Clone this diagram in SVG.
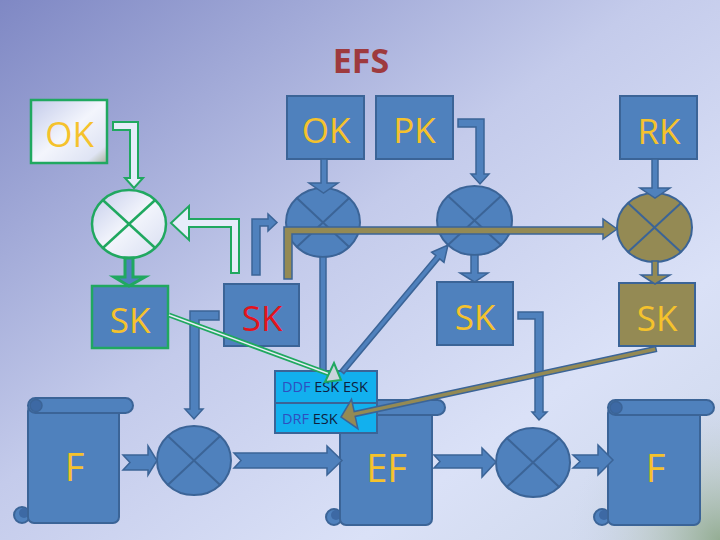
<svg xmlns="http://www.w3.org/2000/svg" width="720" height="540" viewBox="0 0 720 540">
<defs>
<linearGradient id="bg" x1="0" y1="0" x2="1" y2="1">
<stop offset="0" stop-color="#7f88c4"/>
<stop offset="0.45" stop-color="#c4cbeb"/>
<stop offset="0.75" stop-color="#dae1f7"/>
<stop offset="1" stop-color="#cdd7ea"/>
</linearGradient>
<radialGradient id="greenCorner" cx="720" cy="540" r="150" gradientUnits="userSpaceOnUse">
<stop offset="0" stop-color="#8aa684" stop-opacity="0.85"/>
<stop offset="0.5" stop-color="#b0c0b0" stop-opacity="0.4"/>
<stop offset="1" stop-color="#c8d2e8" stop-opacity="0"/>
</radialGradient>
<linearGradient id="light" x1="0" y1="0" x2="1" y2="1">
<stop offset="0" stop-color="#c3cbea"/>
<stop offset="0.5" stop-color="#f3f5fc"/>
<stop offset="0.85" stop-color="#dfe4f4"/>
<stop offset="1" stop-color="#a9b29c"/>
</linearGradient>
<style>
.blue{fill:#4f81bd;stroke:#3b6497;stroke-width:2}
.olive{fill:#948a54;stroke:#3b6497;stroke-width:2}
.xl{stroke:#3b6497;stroke-width:2;fill:none}
.gr{fill:url(#light);stroke:#20a860;stroke-width:2.5}
.grx{stroke:#20a860;stroke-width:2.5;fill:none}
.dark{fill:#3d69a4;stroke:#3b6497;stroke-width:1.5}
.lbl{font-family:"Open Sans","Liberation Sans",sans-serif;font-size:35px;text-anchor:middle;fill:#f5c22c}
.big{font-size:38px}
.red{fill:#e3141c}
.ttl{font-family:"Open Sans","Liberation Sans",sans-serif;font-size:34px;font-weight:bold;text-anchor:middle;fill:#9e3a3e}
.sm{font-family:"Open Sans","Liberation Sans",sans-serif;font-size:14.5px;fill:#0e1e40}
.ddf{fill:#2e4fc0}
.cb{fill:#4f81bd;stroke:#3b6497;stroke-width:1.5}
.co{fill:#948a54;stroke:#3b6497;stroke-width:1.5}
.hg{fill:#e6ecfa;stroke:#20a860;stroke-width:2}
</style>
</defs>
<rect width="720" height="540" fill="url(#bg)"/>
<rect width="720" height="540" fill="url(#greenCorner)"/>

<text class="ttl" x="361" y="73">EFS</text>

<g id="ok-left">
<rect class="gr" x="31" y="100" width="76" height="63"/>
<text class="lbl" x="69.5" y="147">OK</text>
</g>
<g id="circle-green">
<ellipse class="gr" cx="129" cy="224" rx="37" ry="34"/>
<line class="grx" x1="102.8" y1="200" x2="155.2" y2="248"/>
<line class="grx" x1="155.2" y1="200" x2="102.8" y2="248"/>
</g>
<g id="sk-green">
<rect x="92" y="286" width="76" height="62" fill="#4f81bd" stroke="#20a860" stroke-width="2.5"/>
<text class="lbl" x="130" y="333">SK</text>
</g>
<g id="sk-red">
<rect class="blue" x="224" y="284" width="75" height="62"/>
<text class="lbl red" x="262" y="331">SK</text>
</g>
<g id="ok-top">
<rect class="blue" x="287" y="96" width="77" height="63"/>
<text class="lbl" x="326" y="143">OK</text>
</g>
<g id="pk">
<rect class="blue" x="376" y="96" width="77" height="63"/>
<text class="lbl" x="414.5" y="143">PK</text>
</g>
<g id="rk">
<rect class="blue" x="620" y="96" width="77" height="63"/>
<text class="lbl" x="659" y="144">RK</text>
</g>
<g id="circle-ok">
<ellipse class="blue" cx="323" cy="222.5" rx="37" ry="34.5"/>
<line class="xl" x1="296.8" y1="198.1" x2="349.2" y2="246.9"/>
<line class="xl" x1="349.2" y1="198.1" x2="296.8" y2="246.9"/>
</g>
<g id="circle-pk">
<ellipse class="blue" cx="474.5" cy="220.5" rx="37.5" ry="34.5"/>
<line class="xl" x1="448" y1="196.1" x2="501" y2="244.9"/>
<line class="xl" x1="501" y1="196.1" x2="448" y2="244.9"/>
</g>
<g id="circle-rk">
<ellipse class="olive" cx="654.5" cy="227.5" rx="37.5" ry="34.5"/>
<line class="xl" x1="628" y1="203.1" x2="681" y2="251.9"/>
<line class="xl" x1="681" y1="203.1" x2="628" y2="251.9"/>
</g>
<g id="sk-pk">
<rect class="blue" x="437" y="282" width="76" height="63"/>
<text class="lbl" x="475" y="330">SK</text>
</g>
<g id="sk-rk">
<rect class="olive" x="619" y="283" width="76" height="63"/>
<text class="lbl" x="657" y="331">SK</text>
</g>

<g id="scroll-f-left">
<circle class="blue" cx="22" cy="515" r="8"/>
<circle cx="24" cy="513" r="5" fill="#3d69a4"/>
<rect class="blue" x="28" y="405" width="91" height="118" rx="6"/>
<rect class="blue" x="28" y="398" width="105" height="15" rx="7.5"/>
<circle class="dark" cx="36" cy="405.5" r="6"/>
<text class="lbl big" x="74.5" y="481">F</text>
</g>
<g id="scroll-ef">
<circle class="blue" cx="334" cy="517" r="8"/>
<circle cx="336" cy="515" r="5" fill="#3d69a4"/>
<rect class="blue" x="340" y="407" width="92" height="118" rx="6"/>
<rect class="blue" x="340" y="400" width="105" height="15" rx="7.5"/>
<circle class="dark" cx="348" cy="407.5" r="6"/>
<text class="lbl big" x="386.5" y="482">EF</text>
</g>
<g id="scroll-f-right">
<circle class="blue" cx="602" cy="517" r="8"/>
<circle cx="604" cy="515" r="5" fill="#3d69a4"/>
<rect class="blue" x="608" y="407" width="92" height="118" rx="6"/>
<rect class="blue" x="608" y="400" width="106" height="15" rx="7.5"/>
<circle class="dark" cx="616" cy="407.5" r="6"/>
<text class="lbl big" x="655.5" y="482">F</text>
</g>
<g id="circle-5">
<ellipse class="blue" cx="194" cy="460.5" rx="37" ry="34.5"/>
<line class="xl" x1="167.8" y1="436.1" x2="220.2" y2="484.9"/>
<line class="xl" x1="220.2" y1="436.1" x2="167.8" y2="484.9"/>
</g>
<g id="circle-6">
<ellipse class="blue" cx="533" cy="462.5" rx="37" ry="34.5"/>
<line class="xl" x1="506.8" y1="438.1" x2="559.2" y2="486.9"/>
<line class="xl" x1="559.2" y1="438.1" x2="506.8" y2="486.9"/>
</g>
<g id="ddf-drf">
<rect x="275" y="371" width="102" height="32" fill="#12b0ee" stroke="#3b6497" stroke-width="2"/>
<rect x="275" y="403" width="102" height="30" fill="#12b0ee" stroke="#3b6497" stroke-width="2"/>
<text class="sm" x="282" y="392"><tspan class="ddf">DDF</tspan> ESK ESK</text>
<text class="sm" x="282" y="424"><tspan class="ddf">DRF</tspan> ESK</text>
</g>

<g id="connectors">
<path class="hg" d="M113,122 H138 V178 H143 L134,188 L125,178 H130 V130 H113 Z"/>
<path class="hg" d="M231,273 H239 V219 H189 V206 L171,223 L189,240 V227 H231 Z"/>
<path d="M125,258 H133 V277 H145 L129,286 L114,277 H125 Z" fill="#4f81bd" stroke="#20a860" stroke-width="3"/>
<path class="cb" d="M252,275 V219 H268 V214 L277,222.5 L268,231 V226 H260 V275 Z"/>
<path class="cb" d="M321,159 H327 V183 H338 L323.5,193 L309,183 H321 Z"/>
<path class="cb" d="M458,119 H484 V174 H489 L480,184 L471,174 H476 V127 H458 Z"/>
<path class="cb" d="M652,159 H658 V188 H670 L655,198 L640,188 H652 Z"/>
<path class="cb" d="M471,255 H478 V273 H488 L474.5,282 L460,273 H471 Z"/>
<path class="co" d="M652,261 H658 V275 H670 L655,284 L641,275 H652 Z"/>
<rect class="cb" x="320" y="257" width="6" height="114"/>
<path class="co" d="M284,279 V227 H603 V219 L617,229 L603,239 V234 H292 V279 Z"/>
<polygon class="cb" points="343.9,373.6 439.7,258.9 444,262.4 448,245 431.6,252.2 435.9,255.7 340.1,370.4"/>
<path class="cb" d="M219,311 H190 V409 H185 L194,419 L203,409 H199 V320 H219 Z"/>
<path class="cb" d="M518,312 H543 V412 H547 L539,420 L532,412 H535 V319 H518 Z"/>
<polygon class="cb" points="123,455 148,455 148,446 157,460.5 148,475 148,470 123,470 130,462.5"/>
<polygon class="cb" points="234,453 327,453 327,446 342,460.5 327,475 327,468 234,468 241,460.5"/>
<polygon class="cb" points="434,455 482,455 482,448 496,462 482,477 482,468 434,468 440,461.5"/>
<polygon class="cb" points="573,455 598,455 598,445 613,460 598,475 598,468 573,468 580,461.5"/>
<line x1="169" y1="315" x2="332" y2="375" stroke="#20a860" stroke-width="5"/>
<line x1="169" y1="315" x2="332" y2="375" stroke="#e8eef8" stroke-width="1.5"/>
<polygon points="325,382 334,363 341,380" fill="#c9d3dc" stroke="#20a860" stroke-width="2"/>
<polygon class="co" points="655.5,346.6 354.2,411.6 351.5,399.3 341,417 357.9,428.7 355.2,416.4 656.5,351.4"/>
</g>
</svg>
